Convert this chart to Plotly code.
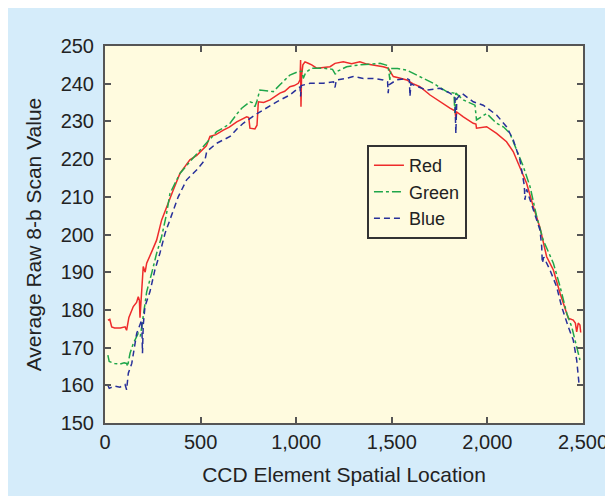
import plotly.graph_objects as go

red_x = [15, 25, 35, 50, 80, 105, 113, 125, 148, 165, 174, 180, 183, 190, 200, 210, 218, 244, 270, 296, 322, 357, 392, 420, 444, 480, 514, 530, 549, 580, 619, 650, 689, 741, 752, 758, 784, 795, 802, 830, 863, 915, 940, 967, 990, 1011, 1020, 1023, 1025, 1028, 1035, 1046, 1060, 1081, 1107, 1140, 1177, 1203, 1246, 1290, 1333, 1370, 1403, 1455, 1481, 1495, 1508, 1540, 1578, 1610, 1647, 1700, 1752, 1804, 1830, 1835, 1840, 1874, 1926, 1940, 1943, 1996, 2048, 2100, 2135, 2170, 2205, 2240, 2275, 2310, 2345, 2380, 2406, 2423, 2449, 2460, 2467, 2475, 2484, 2488]
red_y = [177.3, 177.5, 175.5, 175.2, 175.2, 175.5, 174.6, 178, 180.9, 182, 183.5, 182.5, 177.9, 184, 191.5, 190, 192.4, 195.4, 198.5, 203.8, 207.4, 211.8, 216.2, 218, 219.8, 221, 222.9, 223.5, 226, 226.5, 227.7, 228.5, 229.9, 231.2, 231, 228.2, 228, 229, 235.2, 235, 235.7, 237.5, 238, 239.2, 239.5, 240.1, 241, 246.3, 233.9, 242, 245, 245.8, 245.5, 245, 244.1, 244.2, 244.5, 245.4, 245.8, 245.3, 245.8, 245.2, 245, 244.5, 244.1, 243, 241.9, 241.5, 241, 240, 239.2, 237, 235.2, 233.5, 232.8, 231, 232.5, 231.2, 229.5, 229.3, 228.2, 228.6, 226.8, 224.6, 222, 218, 213.6, 207.4, 201.8, 194.1, 190.6, 184.4, 180, 177.8, 177.3, 176.5, 174.2, 176.5, 176, 174]

green_x = [15, 22, 50, 78, 100, 113, 118, 131, 148, 174, 185, 200, 218, 244, 270, 296, 320, 340, 365, 392, 444, 497, 523, 550, 584, 620, 654, 690, 715, 758, 770, 784, 795, 810, 850, 880, 915, 940, 967, 1011, 1030, 1037, 1050, 1081, 1142, 1190, 1205, 1212, 1264, 1333, 1438, 1480, 1490, 1495, 1530, 1578, 1647, 1717, 1787, 1825, 1830, 1835, 1874, 1935, 1943, 1996, 2048, 2085, 2118, 2153, 2188, 2223, 2258, 2292, 2320, 2345, 2380, 2415, 2441, 2458, 2475, 2484]
green_y = [168, 166.3, 165.8, 165.6, 166, 165.8, 165, 168.5, 171.1, 173.8, 173, 178.2, 184.8, 189.7, 195, 199.4, 205, 210.9, 213.5, 216.2, 219.3, 222.4, 223.7, 225.5, 227.3, 228.3, 229.5, 232, 233.5, 235.2, 235, 233.9, 235.5, 238.3, 238, 237.9, 239.7, 241, 242.3, 243.2, 243.3, 241.4, 243, 244.1, 244.1, 243.8, 242.5, 243.2, 244.5, 245, 245.4, 244.8, 241, 244, 244, 243.6, 241.9, 240.1, 237.9, 237.5, 232, 237.5, 235.7, 234.3, 230.4, 232.1, 229.5, 228.5, 226.8, 222.4, 218, 212.7, 204.7, 198.5, 195.5, 192.4, 186.2, 179.1, 175.5, 172, 168.5, 166.7]

blue_x = [15, 22, 50, 78, 105, 113, 122, 140, 166, 192, 196, 200, 209, 235, 261, 287, 314, 340, 360, 383, 427, 479, 523, 532, 584, 654, 690, 723, 784, 828, 898, 967, 1015, 1020, 1023, 1026, 1072, 1142, 1195, 1203, 1210, 1264, 1298, 1351, 1403, 1455, 1478, 1481, 1485, 1525, 1578, 1592, 1595, 1600, 1612, 1682, 1752, 1804, 1830, 1835, 1840, 1865, 1926, 1978, 2048, 2100, 2135, 2170, 2193, 2196, 2205, 2240, 2275, 2284, 2287, 2295, 2327, 2362, 2388, 2423, 2449, 2467, 2475, 2480]
blue_y = [160, 159.2, 159.8, 159.5, 160.2, 158.8, 163.2, 165.8, 173.8, 177.3, 168.5, 176, 180.9, 184.8, 190.6, 195, 200.3, 203.8, 207, 210, 214.5, 217.1, 219.8, 222, 224.2, 226, 228, 229.5, 231.7, 233, 235.2, 237, 238.8, 239.2, 236.6, 239.5, 240.1, 240.1, 240.5, 239, 241, 241.4, 241.9, 241.4, 241.4, 241, 240.5, 237.5, 239.7, 241, 241.4, 241, 236.6, 240, 239.7, 238.3, 238.8, 237.5, 236.5, 226.8, 236, 237.5, 235.2, 234.3, 231.7, 228.6, 225.1, 219.8, 213, 209.2, 212, 206.5, 201.2, 196.8, 192.4, 194, 190.6, 186.2, 180.9, 175.5, 172, 166.7, 162.3, 160]

x_ticks = [0, 500, 1000, 1500, 2000, 2500]
x_tick_labels = ["0", "500", "1,000", "1,500", "2,000", "2,500"]
y_ticks = [150, 160, 170, 180, 190, 200, 210, 220, 230, 240, 250]

FONT = "Liberation Sans, Arial, sans-serif"
TXT = "#222222"
AX = "#555555"

fig = go.Figure()
fig.add_trace(go.Scatter(x=red_x, y=red_y, mode="lines", name="Red",
                         line=dict(color="#ee2b2b", width=1.5)))
fig.add_trace(go.Scatter(x=green_x, y=green_y, mode="lines", name="Green",
                         line=dict(color="#1fa64a", width=1.5, dash="dashdot")))
fig.add_trace(go.Scatter(x=blue_x, y=blue_y, mode="lines", name="Blue",
                         line=dict(color="#28309a", width=1.5, dash="6px,4px")))

fig.update_layout(
    template="none",
    width=613, height=496,
    margin=dict(l=97, r=38, t=38, b=81, autoexpand=False),
    paper_bgcolor="#d5ecfa",
    plot_bgcolor="#fffbdf",
    font=dict(family=FONT, color=TXT, size=20),
    showlegend=True,
    legend=dict(x=0.548, y=0.737, xanchor="left", yanchor="top",
                bgcolor="#fffbdf", bordercolor="#333333", borderwidth=2,
                font=dict(size=18, family=FONT, color=TXT),
                itemwidth=30, tracegroupgap=0),
    xaxis=dict(range=[0, 2500], tickvals=x_ticks, ticktext=x_tick_labels,
               automargin=False,
               ticks="inside", ticklen=6, tickcolor=AX, tickwidth=1.5,
               showline=True, linecolor=AX, linewidth=2, mirror="ticks",
               showgrid=False, zeroline=False,
               tickfont=dict(size=20, family=FONT, color=TXT),
               title=dict(text="CCD Element Spatial Location", standoff=15,
                          font=dict(size=21, family=FONT, color=TXT))),
    yaxis=dict(range=[150, 250], tickvals=y_ticks,
               automargin=False, ticklabelstandoff=5,
               ticks="inside", ticklen=6, tickcolor=AX, tickwidth=1.5,
               showline=True, linecolor=AX, linewidth=2, mirror="ticks",
               showgrid=False, zeroline=False,
               tickfont=dict(size=20, family=FONT, color=TXT),
               title=dict(text="Average Raw 8-b Scan Value", standoff=13,
                          font=dict(size=21, family=FONT, color=TXT))),
)

fig.write_html("out.html")
